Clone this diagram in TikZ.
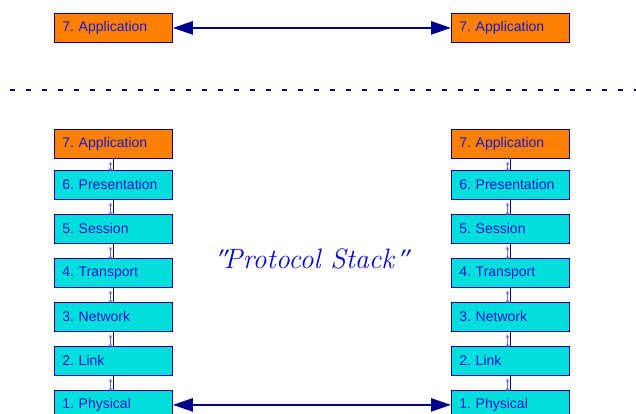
\documentclass[tikz,border=0pt]{standalone}
\usepackage{fontspec}
\setsansfont{Liberation Sans}
\newfontfamily\quotefont{Liberation Serif}[FakeSlant=0.3]
\usetikzlibrary{arrows.meta}
\definecolor{navy}{RGB}{0,0,140}
\definecolor{txtblue}{RGB}{25,25,195}
\definecolor{psblue}{RGB}{10,10,205}
\definecolor{orng}{RGB}{255,128,0}
\definecolor{cyn}{RGB}{0,222,222}
\definecolor{lightarr}{RGB}{110,110,200}
\begin{document}
\frenchspacing
\begin{tikzpicture}[x=1pt,y=-1pt,
  layer/.style={draw=navy,line width=0.8pt,minimum width=118pt,minimum height=29pt,
    inner sep=0pt,font=\sffamily\fontsize{14}{15}\selectfont,text=txtblue,
    text width=102pt,align=left,anchor=north west},
  app/.style={layer,fill=orng},
  low/.style={layer,fill=cyn},
  bigarrow/.style={draw=navy,line width=2.6pt,{Triangle[length=20pt,width=13pt]}-{Triangle[length=20pt,width=13pt]}},
  link/.style={draw=navy,line width=1.8pt},
  tiny/.style={draw=lightarr,line width=0.6pt,{Straight Barb[length=2.5pt,width=3pt]}-{Straight Barb[length=2.5pt,width=3pt]}}
]
\useasboundingbox (0,0) rectangle (636,414);
% top
\node[app] (TL) at (54,13) {7. Application};
\node[app] (TR) at (451,13) {7. Application};
\draw[bigarrow] (TL.east) -- (TR.west);
% dashed separator
\coordinate (DL) at (10,90);
\coordinate (DR) at (636,90);
\draw[navy,line width=1.1pt,dash pattern=on 5pt off 11pt] (DL) -- (DR);
% stacks
\node[app] (L7) at (54,129) {7. Application};
\node[low] (L6) at (54,170) {6. Presentation};
\node[low] (L5) at (54,214) {5. Session};
\node[low] (L4) at (54,258) {4. Transport};
\node[low] (L3) at (54,302) {3. Network};
\node[low] (L2) at (54,346) {2. Link};
\node[low] (L1) at (54,390) {1. Physical};
\node[app] (R7) at (451,129) {7. Application};
\node[low] (R6) at (451,170) {6. Presentation};
\node[low] (R5) at (451,214) {5. Session};
\node[low] (R4) at (451,258) {4. Transport};
\node[low] (R3) at (451,302) {3. Network};
\node[low] (R2) at (451,346) {2. Link};
\node[low] (R1) at (451,390) {1. Physical};
\foreach \s in {L,R}{
  \foreach \a/\b in {7/6,6/5,5/4,4/3,3/2,2/1}{
    \draw[link] (\s\a.south) -- (\s\b.north);
    \draw[tiny] ([xshift=-3pt,yshift=-3pt]\s\a.south) -- ([xshift=-3pt,yshift=-1.5pt]\s\b.north);
  }
}
\draw[bigarrow] (L1.east) -- (R1.west);
\node[font=\itshape\fontsize{28}{30}\selectfont,text=psblue] (PS) at (309,259) {{\quotefont\char"22}Protocol Stack{\quotefont\char"22}};
\end{tikzpicture}
\end{document}
